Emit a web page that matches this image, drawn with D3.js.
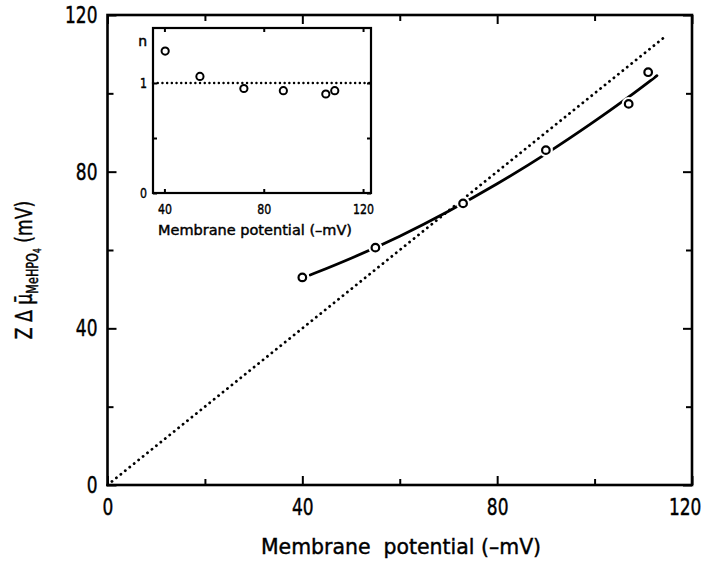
<!DOCTYPE html>
<html>
<head>
<meta charset="utf-8">
<script src="https://cdn.jsdelivr.net/npm/d3@7/dist/d3.min.js"></script>
<style>
  html, body { margin: 0; padding: 0; background: #fff; }
  svg { display: block; }
  text { font-family: "DejaVu Sans", sans-serif; fill: #000; stroke: #000; stroke-width: 0.45px; }
</style>
</head>
<body>
<svg id="chart" width="708" height="563"></svg>
<script>
// ---- data ----
const mainX = [40, 55, 73, 90, 107, 111];
const mainY = [53.0, 60.6, 71.9, 85.5, 97.3, 105.4];
const fitX = [41.6, 50, 60, 70, 80, 90, 100, 107, 112.8];
const fitY = [53.6, 57.8, 63.4, 69.8, 76.8, 84.4, 92.8, 99.0, 104.5];
const identX = [0, 114.5];
const identY = [0, 114.5];
const insetX = [40.3, 54.3, 72, 87.9, 105, 108.6];
const insetN = [1.29, 1.06, 0.95, 0.93, 0.90, 0.93];
const insetRefX = [35.4, 123.2];
const insetRefN = [1, 1];
const mainTicks = [0, 40, 80, 120];
const mainMinorTicks = [20, 60, 100];
const insetXTicks = [40, 80, 120];
const insetYTicks = [0, 1];
const insetYMinorTicks = [0.5];
const xLabel = "Membrane  potential (–mV)";
const insetXLabel = "Membrane potential (–mV)";
const insetYLabel = "n";

// ---- layout ----
const svg = d3.select("#chart");
const x = d3.scaleLinear().domain([0, 120]).range([107.5, 692]);
const y = d3.scaleLinear().domain([0, 120]).range([485, 15]);

// horizontally condense a text selection (keeps its anchor point)
function narrow(sel, k) {
  sel.each(function () {
    const t = d3.select(this);
    const tx = +t.attr("x") || 0;
    const ty = +t.attr("y") || 0;
    t.attr("x", 0).attr("y", 0)
     .attr("transform", `translate(${tx},${ty}) scale(${k},1)`);
  });
}

const main = svg.append("g");

function styleAxis(g, fs, k) {
  g.select(".domain").remove();
  g.selectAll(".tick line").attr("stroke", "#000").attr("stroke-width", 2);
  const t = g.selectAll(".tick text").attr("font-size", fs).attr("fill", "#000")
    .attr("font-family", '"DejaVu Sans", sans-serif');
  if (k) narrow(t, k);
}

// major/minor ticks, all inward
main.append("g").attr("class", "xaxis").attr("transform", `translate(0,${y(0)})`)
  .call(d3.axisBottom(x).tickValues(mainTicks).tickSize(-9).tickPadding(14).tickFormat(d3.format("d")))
  .call(g => styleAxis(g, 23, 0.74));
main.select(".xaxis").selectAll(".tick text").filter(d => d === 120)
  .attr("text-anchor", "end").attr("x", 12);
main.append("g").attr("transform", `translate(0,${y(0)})`)
  .call(d3.axisBottom(x).tickValues(mainMinorTicks).tickSize(-6).tickFormat(""))
  .call(g => styleAxis(g, 23));
main.append("g").attr("transform", `translate(${x(0)},0)`)
  .call(d3.axisLeft(y).tickValues(mainTicks).tickSize(-9).tickPadding(10).tickFormat(d3.format("d")))
  .call(g => styleAxis(g, 23, 0.74));
main.append("g").attr("transform", `translate(${x(0)},0)`)
  .call(d3.axisLeft(y).tickValues(mainMinorTicks).tickSize(-6).tickFormat(""))
  .call(g => styleAxis(g, 23));
main.append("g").attr("transform", `translate(0,${y(120)})`)
  .call(d3.axisTop(x).tickValues(mainTicks).tickSize(-9).tickFormat(""))
  .call(g => styleAxis(g, 23));
main.append("g").attr("transform", `translate(0,${y(120)})`)
  .call(d3.axisTop(x).tickValues(mainMinorTicks).tickSize(-6).tickFormat(""))
  .call(g => styleAxis(g, 23));
main.append("g").attr("transform", `translate(${x(120)},0)`)
  .call(d3.axisRight(y).tickValues(mainTicks).tickSize(-9).tickFormat(""))
  .call(g => styleAxis(g, 23));
main.append("g").attr("transform", `translate(${x(120)},0)`)
  .call(d3.axisRight(y).tickValues(mainMinorTicks).tickSize(-6).tickFormat(""))
  .call(g => styleAxis(g, 23));

// frame
main.append("rect")
  .attr("x", x(0)).attr("y", y(120))
  .attr("width", x(120) - x(0)).attr("height", y(0) - y(120))
  .attr("fill", "none").attr("stroke", "#000").attr("stroke-width", 2.6);

// identity dotted line
const identLine = d3.line().x(d => x(d[0])).y(d => y(d[1]));
main.append("path")
  .attr("d", identLine(identX.map((v, i) => [v, identY[i]])))
  .attr("fill", "none").attr("stroke", "#000").attr("stroke-width", 2.8)
  .attr("stroke-linecap", "round").attr("stroke-dasharray", "0.1 5.6");

// fitted curve
const fitLine = d3.line().curve(d3.curveBasis).x(d => x(d[0])).y(d => y(d[1]));
main.append("path")
  .attr("d", fitLine(fitX.map((v, i) => [v, fitY[i]])))
  .attr("fill", "none").attr("stroke", "#000").attr("stroke-width", 2.8)
  .attr("stroke-linecap", "round");

// points with halo
const pts = mainX.map((v, i) => [v, mainY[i]]);
main.selectAll("circle.halo").data(pts).join("circle").attr("class", "halo")
  .attr("cx", d => x(d[0])).attr("cy", d => y(d[1])).attr("r", 5)
  .attr("fill", "#fff").attr("stroke", "#fff").attr("stroke-width", 4);
main.selectAll("circle.pt").data(pts).join("circle").attr("class", "pt")
  .attr("cx", d => x(d[0])).attr("cy", d => y(d[1])).attr("r", 3.8)
  .attr("fill", "#fff").attr("stroke", "#000").attr("stroke-width", 2.2);

// x label
main.append("text")
  .attr("x", 401).attr("y", 554).attr("text-anchor", "middle")
  .attr("font-size", 22).style("white-space", "pre")
  .text(xLabel)
  .call(s => narrow(s, 0.93));

// y label (rotated, condensed along the text direction)
const yl = main.append("text")
  .attr("transform", "translate(32,270) rotate(-90) scale(0.75,1)")
  .attr("text-anchor", "middle").attr("font-size", 23);
yl.append("tspan").text("Z Δ μ\u0304");
yl.append("tspan").attr("font-size", 15).attr("dy", 6).text("MeHPO");
yl.append("tspan").attr("font-size", 10).attr("dy", 3).text("4");
yl.append("tspan").attr("dy", -9).text("\u00a0(mV)");

// ---- inset ----
const ix = d3.scaleLinear().domain([35.4, 123.2]).range([153, 371]);
const iy = d3.scaleLinear().domain([0, 1.5]).range([193, 28]);
const inset = svg.append("g");

inset.append("rect")
  .attr("x", ix(35.4)).attr("y", iy(1.5))
  .attr("width", ix(123.2) - ix(35.4)).attr("height", iy(0) - iy(1.5))
  .attr("fill", "#fff");

inset.append("g").attr("transform", `translate(0,${iy(0)})`)
  .call(d3.axisBottom(ix).tickValues(insetXTicks).tickSize(-4).tickPadding(11).tickFormat(d3.format("d")))
  .call(g => styleAxis(g, 14.5, 0.76));
inset.append("g").attr("transform", `translate(0,${iy(1.5)})`)
  .call(d3.axisTop(ix).tickValues(insetXTicks).tickSize(-4).tickFormat(""))
  .call(g => styleAxis(g, 14));
inset.append("g").attr("transform", `translate(${ix(35.4)},0)`)
  .call(d3.axisLeft(iy).tickValues(insetYTicks).tickSize(-4).tickPadding(6).tickFormat(d3.format("d")))
  .call(g => styleAxis(g, 14.5, 0.76));
inset.append("g").attr("transform", `translate(${ix(35.4)},0)`)
  .call(d3.axisLeft(iy).tickValues(insetYMinorTicks).tickSize(-4).tickFormat(""))
  .call(g => styleAxis(g, 14));
inset.append("g").attr("transform", `translate(${ix(123.2)},0)`)
  .call(d3.axisRight(iy).tickValues(insetYTicks.concat(insetYMinorTicks)).tickSize(-4).tickFormat(""))
  .call(g => styleAxis(g, 14));

inset.append("rect")
  .attr("x", ix(35.4)).attr("y", iy(1.5))
  .attr("width", ix(123.2) - ix(35.4)).attr("height", iy(0) - iy(1.5))
  .attr("fill", "none").attr("stroke", "#000").attr("stroke-width", 2.2);

inset.append("path")
  .attr("d", d3.line().x(d => ix(d[0])).y(d => iy(d[1]))(insetRefX.map((v, i) => [v, insetRefN[i]])))
  .attr("fill", "none").attr("stroke", "#000").attr("stroke-width", 2.4)
  .attr("stroke-linecap", "round").attr("stroke-dasharray", "0.1 4.6");

inset.selectAll("circle").data(insetX.map((v, i) => [v, insetN[i]])).join("circle")
  .attr("cx", d => ix(d[0])).attr("cy", d => iy(d[1])).attr("r", 3.6)
  .attr("fill", "#fff").attr("stroke", "#000").attr("stroke-width", 2);

inset.append("text")
  .attr("x", 147).attr("y", 46).attr("text-anchor", "end")
  .attr("font-size", 14).text(insetYLabel);

inset.append("text")
  .attr("x", 255).attr("y", 235).attr("text-anchor", "middle")
  .attr("font-size", 14.5).text(insetXLabel);
</script>
</body>
</html>
